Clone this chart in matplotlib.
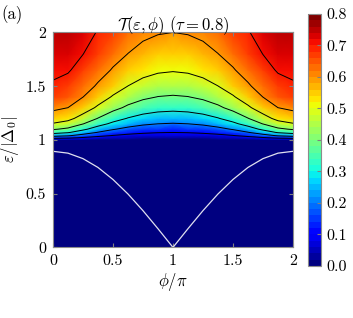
import numpy as np
import matplotlib
matplotlib.use("Agg")
import matplotlib.pyplot as plt

plt.rcParams['font.family'] = 'serif'
plt.rcParams['font.serif'] = ['cmr10', 'DejaVu Serif']
plt.rcParams['mathtext.fontset'] = 'cm'
plt.rcParams['axes.formatter.use_mathtext'] = True

# phase grid (phi/pi), first half; the map is symmetric about phi = pi
phi_half = [0.0, 0.125, 0.25, 0.375, 0.5, 0.625, 0.75, 0.875, 1.0]

# energy rows (eps/|Delta0|)
eps = [0.0, 0.999, 1.0, 1.005, 1.01, 1.02, 1.04, 1.07, 1.1, 1.15, 1.2,
       1.3, 1.4, 1.5, 1.65, 1.8, 2.0]

# transmission T(eps, phi), one row per eps
T_half = [
    [0, 0, 0, 0, 0, 0, 0, 0, 0],
    [0, 0, 0, 0, 0, 0, 0, 0, 0],
    [0, 0, 0, 0, 0, 0, 0, 0, 0],
    [0.038, 0.033, 0.025, 0.018, 0.013, 0.011, 0.009, 0.008, 0.008],
    [0.073, 0.064, 0.048, 0.034, 0.026, 0.021, 0.018, 0.016, 0.016],
    [0.134, 0.119, 0.090, 0.066, 0.051, 0.041, 0.035, 0.032, 0.031],
    [0.232, 0.209, 0.164, 0.124, 0.096, 0.078, 0.068, 0.062, 0.060],
    [0.336, 0.309, 0.251, 0.196, 0.156, 0.129, 0.113, 0.104, 0.101],
    [0.410, 0.381, 0.319, 0.256, 0.207, 0.175, 0.154, 0.142, 0.139],
    [0.494, 0.467, 0.403, 0.335, 0.280, 0.240, 0.214, 0.200, 0.195],
    [0.550, 0.525, 0.465, 0.397, 0.339, 0.295, 0.266, 0.250, 0.244],
    [0.620, 0.600, 0.548, 0.486, 0.428, 0.383, 0.351, 0.333, 0.327],
    [0.662, 0.645, 0.601, 0.546, 0.492, 0.448, 0.417, 0.398, 0.392],
    [0.690, 0.676, 0.638, 0.589, 0.541, 0.499, 0.469, 0.451, 0.444],
    [0.717, 0.706, 0.676, 0.635, 0.593, 0.557, 0.529, 0.512, 0.506],
    [0.734, 0.725, 0.701, 0.667, 0.631, 0.599, 0.574, 0.558, 0.553],
    [0.750, 0.743, 0.724, 0.696, 0.667, 0.640, 0.618, 0.605, 0.600],
]

# Andreev level (white curve)
E_abs_half = [0.894, 0.877, 0.826, 0.744, 0.632, 0.497, 0.342, 0.174, 0.0]

levels = [0.1, 0.2, 0.3, 0.4, 0.5, 0.6, 0.7]
cb_ticks = [0, 0.1, 0.2, 0.3, 0.4, 0.5, 0.6, 0.7, 0.8]

# mirror to cover 0..2
phi = np.concatenate([phi_half, 2 - np.array(phi_half[-2::-1])])
T = np.array(T_half)
T = np.hstack([T, T[:, -2::-1]])
E_abs = np.concatenate([E_abs_half, E_abs_half[-2::-1]])

fig = plt.figure(figsize=(3.53, 3.18), dpi=100)
ax = fig.add_axes([0.150, 0.222, 0.680, 0.676])
cax = fig.add_axes([0.873, 0.164, 0.036, 0.792])

cmap = plt.get_cmap('jet', 40)
pc = ax.pcolormesh(phi, eps, T, cmap=cmap, vmin=0, vmax=0.8, shading='gouraud')
ax.contour(phi, eps, T, levels=levels, colors='k', linewidths=0.7)
ax.plot(phi, E_abs, color='#e0e0f0', lw=0.9)

ax.set_xlim(0, 2)
ax.set_ylim(0, 2)
ax.set_xticks([0, 0.5, 1, 1.5, 2])
ax.set_yticks([0, 0.5, 1, 1.5, 2])
ax.set_xticklabels(['0', '0.5', '1', '1.5', '2'])
ax.set_yticklabels(['0', '0.5', '1', '1.5', '2'])
ax.tick_params(direction='in', top=True, right=True, length=3, color='0.5',
               labelsize=11.5, pad=5)
for sp in ax.spines.values():
    sp.set_color('0.55')
ax.set_xlabel(r'$\phi/\pi$', fontsize=12, labelpad=2)
ax.set_ylabel(r'$\varepsilon/|\Delta_0|$', fontsize=12, labelpad=3)
ax.set_title(r'$\mathcal{T}(\varepsilon,\phi)\ (\tau=0.8)$', fontsize=12, pad=2)

cb = fig.colorbar(pc, cax=cax, ticks=cb_ticks)
cb.ax.set_yticklabels(['%.1f' % v for v in cb_ticks])
cb.ax.tick_params(direction='in', length=3, color='0.5', labelsize=11.5, pad=4)
cb.outline.set_edgecolor('0.55')

fig.text(0.003, 0.955, '(a)', fontsize=12, va='center')

fig.savefig('out.png', dpi=100)
